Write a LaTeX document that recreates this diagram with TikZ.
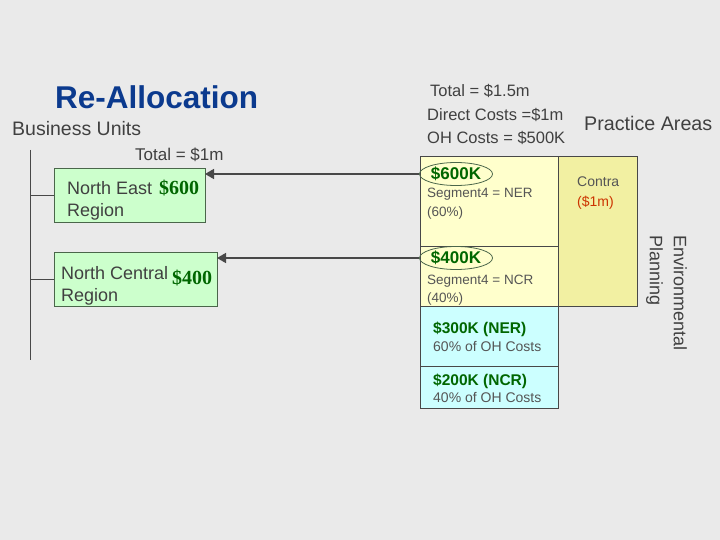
\documentclass[tikz,border=0pt]{standalone}
\usepackage{fontspec}
\setmainfont{Liberation Sans}
\newfontfamily\numserif{Liberation Serif}
\usetikzlibrary{positioning,shapes.geometric,arrows.meta}

\definecolor{slide}{HTML}{EAEAEA}
\definecolor{titleblue}{HTML}{0B3A8E}
\definecolor{textgray}{HTML}{404040}
\definecolor{softgray}{HTML}{555555}
\definecolor{linegray}{HTML}{484848}
\definecolor{moneygreen}{HTML}{006600}
\definecolor{regiongreen}{HTML}{CCFFCC}
\definecolor{regionedge}{HTML}{4A664A}
\definecolor{segyellow}{HTML}{FFFFCC}
\definecolor{contrayellow}{HTML}{F2F0A2}
\definecolor{ohcyan}{HTML}{CCFFFF}
\definecolor{contrared}{HTML}{CC3300}

\begin{document}
\begin{tikzpicture}[x=1pt,y=-1pt]

\tikzstyle{bordered} = [rectangle,draw=linegray,line width=0.9pt,outer sep=0,inner sep=0,anchor=north west]
\tikzstyle{region} = [bordered,fill=regiongreen,draw=regionedge,minimum height=54pt]
\tikzstyle{label} = [inner sep=0,anchor=base west,text=textgray]
\tikzstyle{detail} = [label,text=softgray,font=\fontsize{13.5}{16}\selectfont]
\tikzstyle{amount} = [label,text=moneygreen,font=\fontsize{20}{24}\selectfont\numserif\bfseries]
\tikzstyle{share} = [label,text=moneygreen,font=\fontsize{15.5}{18}\selectfont\bfseries]
\tikzstyle{money} = [ellipse,draw=regionedge,line width=0.8pt,text=moneygreen,font=\fontsize{17}{20}\selectfont\bfseries,inner sep=0,minimum width=73pt,minimum height=23pt]
\tikzstyle{arrow} = [draw=linegray,line width=1.6pt,-{Triangle[length=9pt,width=10pt]}]
\tikzstyle{trunk} = [draw=linegray,line width=1pt]

\path[fill=slide,use as bounding box] (0,0) rectangle (720,540);

% headings
\node [label,text=titleblue,font=\fontsize{31.5}{36}\selectfont\bfseries] (title) at (55,109) {Re-Allocation};
\node [label,font=\fontsize{19.5}{23}\selectfont] (units) at (12,136) {Business Units};
\node [label,font=\fontsize{17}{20}\selectfont] (units_total) at (135,161) {Total = \$1m};

\node [label,font=\fontsize{16.5}{19}\selectfont] (areas_total) at (430,97) {Total = \$1.5m};
\node [label,font=\fontsize{16.5}{19}\selectfont] (areas_direct) at (427,121) {Direct Costs =\$1m};
\node [label,font=\fontsize{16.5}{19}\selectfont] (areas_oh) at (427,144) {OH Costs = \$500K};
\node [label,font=\fontsize{19.7}{23}\selectfont] (areas) at (584,131) {Practice Areas};

% business units
\coordinate (trunk_top) at (30,150);
\coordinate (trunk_bottom) at (30,360);

\node [region,minimum width=151pt] (north_east) at (54,168) {};
\node [region,minimum width=163pt] (north_central) at (54,252) {};

\node [label,font=\fontsize{18}{21}\selectfont] (ne_name) at (67,195) {North East};
\node [label,font=\fontsize{18}{21}\selectfont] (ne_region) at (67,217) {Region};
\node [amount] (ne_amount) at (159,195) {\$600};

\node [label,font=\fontsize{18}{21}\selectfont] (nc_name) at (61,279) {North Central};
\node [label,font=\fontsize{18}{21}\selectfont] (nc_region) at (61,301) {Region};
\node [amount] (nc_amount) at (172,284) {\$400};

\path[trunk] (trunk_top) -- (trunk_bottom);
\path[trunk,line width=0.7pt] (north_east.west) -- (north_east.west -| trunk_top);
\path[trunk,line width=0.7pt] (north_central.west) -- (north_central.west -| trunk_top);

% practice areas
\node [bordered,fill=segyellow,minimum width=138pt,minimum height=90pt] (ner) at (420,156) {};
\node [bordered,fill=segyellow,minimum width=138pt,minimum height=60pt,below=0pt of ner] (ncr) {};
\node [bordered,fill=ohcyan,minimum width=138pt,minimum height=60pt,below=0pt of ncr] (ner_oh) {};
\node [bordered,fill=ohcyan,minimum width=138pt,minimum height=42pt,below=0pt of ner_oh] (ncr_oh) {};
\node [bordered,fill=contrayellow,minimum width=79pt,minimum height=150pt] (contra) at (ner.north east) {};

\node [money] (ner_amount) at (456,174) {\$600K};
\node [detail] (ner_segment) at (427,198) {Segment4 = NER};
\node [detail] (ner_pct) at (427,216) {(60\%)};

\node [money] (ncr_amount) at (456,258) {\$400K};
\node [detail] (ncr_segment) at (427,284) {Segment4 = NCR};
\node [detail] (ncr_pct) at (427,302) {(40\%)};

\node [share] (ner_oh_amount) at (433,333) {\$300K (NER)};
\node [detail,font=\fontsize{14}{16}\selectfont] (ner_oh_pct) at (433,351) {60\% of OH Costs};
\node [share] (ncr_oh_amount) at (433,385) {\$200K (NCR)};
\node [detail,font=\fontsize{14}{16}\selectfont] (ncr_oh_pct) at (433,402) {40\% of OH Costs};

\node [detail,font=\fontsize{14}{16}\selectfont] (contra_name) at (577,187) {Contra};
\node [detail,text=contrared,font=\fontsize{14}{16}\selectfont] (contra_amount) at (577,207) {(\$1m)};

\node [label,rotate=-90,anchor=north west,align=left,font=\fontsize{18}{24}\selectfont] (env) at (687,235) {Environmental\\Planning};

\path[arrow] (ner_amount.west) -- (ner_amount.west -| north_east.east);
\path[arrow] (ncr_amount.west) -- (ncr_amount.west -| north_central.east);
\end{tikzpicture}
\end{document}
